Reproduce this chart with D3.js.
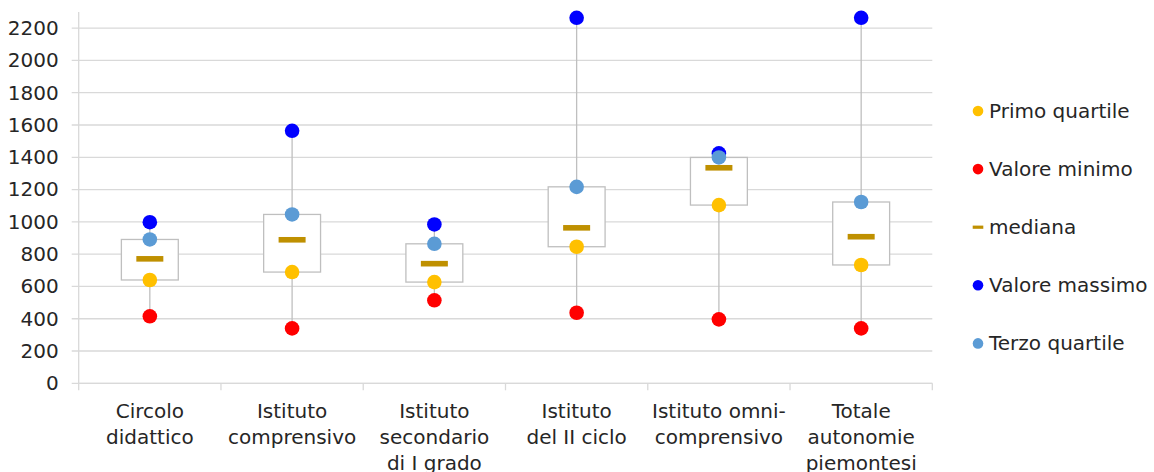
<!DOCTYPE html>
<html>
<head>
<meta charset="utf-8">
<script src="https://cdn.jsdelivr.net/npm/d3@7"></script>
<style>
  body { margin: 0; background: #fff; }
  svg { display: block; font-family: "DejaVu Sans", sans-serif; }
</style>
</head>
<body>
<svg width="1154" height="472"></svg>
<script>
// data
var categories = [
  ["Circolo", "didattico"],
  ["Istituto", "comprensivo"],
  ["Istituto", "secondario", "di I grado"],
  ["Istituto", "del II ciclo"],
  ["Istituto omni-", "comprensivo"],
  ["Totale", "autonomie", "piemontesi"]
];
var valoreMinimo  = [415, 340, 514, 437, 396, 340];
var primoQuartile = [640, 689, 627, 846, 1104, 733];
var mediana       = [771, 889, 741, 963, 1335, 908];
var terzoQuartile = [891, 1046, 864, 1217, 1399, 1123];
var valoreMassimo = [998, 1564, 984, 2264, 1424, 2264];
var yTicks = [0, 200, 400, 600, 800, 1000, 1200, 1400, 1600, 1800, 2000, 2200];

var legendItems = [
  { name: "Primo quartile", color: "#FFC000", type: "dot" },
  { name: "Valore minimo", color: "#FF0000", type: "dot" },
  { name: "mediana", color: "#BF9000", type: "dash" },
  { name: "Valore massimo", color: "#0000FF", type: "dot" },
  { name: "Terzo quartile", color: "#5B9BD5", type: "dot" }
];

var svg = d3.select("svg"),
  plotLeft = 78.7,
  plotRight = 932.3,
  plotTop = 12,
  plotBottom = 383.3,
  fontSize = "20px";

var keys = categories.map((c, i) => "c" + i);

var x = d3.scaleBand().domain(keys).range([plotLeft, plotRight]).padding(0);
var y = d3.scaleLinear().domain([0, 2300]).range([plotBottom, plotTop]);

// gridlines
svg.append("g")
  .selectAll("line")
  .data(yTicks)
  .enter()
  .append("line")
  .attr("x1", plotLeft - 7)
  .attr("x2", plotRight)
  .attr("y1", (d) => y(d))
  .attr("y2", (d) => y(d))
  .style("stroke", "#d9d9d9")
  .style("stroke-width", 1.3);

// y axis labels
var yAxis = svg.append("g")
  .attr("transform", "translate(" + plotLeft + ",0)")
  .call(d3.axisLeft(y).tickValues(yTicks).tickFormat(d3.format("d")).tickSize(0).tickPadding(20));
yAxis.select(".domain").remove();
yAxis.selectAll("text")
  .style("font-family", "DejaVu Sans")
  .style("font-size", fontSize)
  .style("fill", "#262626");

// axis lines
svg.append("line")
  .attr("x1", plotLeft).attr("x2", plotLeft)
  .attr("y1", plotTop).attr("y2", plotBottom + 7)
  .style("stroke", "#d9d9d9").style("stroke-width", 1.3);
svg.append("line")
  .attr("x1", plotLeft).attr("x2", plotRight)
  .attr("y1", plotBottom).attr("y2", plotBottom)
  .style("stroke", "#d9d9d9").style("stroke-width", 1.3);
svg.append("g")
  .selectAll("line")
  .data(keys.slice(1).map((k) => x(k)).concat([plotRight]))
  .enter()
  .append("line")
  .attr("x1", (d) => d).attr("x2", (d) => d)
  .attr("y1", plotBottom).attr("y2", plotBottom + 7)
  .style("stroke", "#d9d9d9").style("stroke-width", 1.3);

// x labels
var xLabels = svg.append("g")
  .selectAll("text")
  .data(categories)
  .enter()
  .append("text")
  .attr("text-anchor", "middle")
  .attr("transform", (d, i) => "translate(" + (x(keys[i]) + x.bandwidth() / 2) + "," + (plotBottom + 34.5) + ")")
  .style("font-size", fontSize)
  .style("fill", "#262626");
xLabels.selectAll("tspan")
  .data((d) => d)
  .enter()
  .append("tspan")
  .attr("x", 0)
  .attr("dy", (d, i) => (i === 0 ? 0 : 26))
  .text((d) => d);

var cx = (i) => x(keys[i]) + x.bandwidth() / 2;
var boxW = x.bandwidth() * 0.4;

var g = svg.append("g");

// whiskers
g.selectAll(".whisker")
  .data(keys)
  .enter()
  .append("line")
  .attr("x1", (d, i) => cx(i)).attr("x2", (d, i) => cx(i))
  .attr("y1", (d, i) => y(valoreMinimo[i]))
  .attr("y2", (d, i) => y(valoreMassimo[i]))
  .style("stroke", "#bfbfbf")
  .style("stroke-width", 1.3);

// boxes
g.selectAll(".box")
  .data(keys)
  .enter()
  .append("rect")
  .attr("x", (d, i) => cx(i) - boxW / 2)
  .attr("width", boxW)
  .attr("y", (d, i) => y(terzoQuartile[i]))
  .attr("height", (d, i) => y(primoQuartile[i]) - y(terzoQuartile[i]))
  .style("fill", "#fff")
  .style("stroke", "#bfbfbf")
  .style("stroke-width", 1.3);

// median dashes
g.selectAll(".med")
  .data(mediana)
  .enter()
  .append("rect")
  .attr("x", (d, i) => cx(i) - 13.5)
  .attr("width", 27)
  .attr("y", (d) => y(d) - 2.8)
  .attr("height", 5.6)
  .style("fill", "#BF9000");

// dots, in series order
var dotSeries = [
  [primoQuartile, "#FFC000"],
  [valoreMinimo, "#FF0000"],
  [valoreMassimo, "#0000FF"],
  [terzoQuartile, "#5B9BD5"]
];
dotSeries.forEach(function (s) {
  g.append("g")
    .selectAll("circle")
    .data(s[0])
    .enter()
    .append("circle")
    .attr("cx", (d, i) => cx(i))
    .attr("cy", (d) => y(d))
    .attr("r", 7.3)
    .style("fill", s[1]);
});

// legend
var legend = svg.append("g")
  .selectAll("g")
  .data(legendItems)
  .enter()
  .append("g")
  .attr("transform", (d, i) => "translate(978," + (111 + i * 58.1) + ")");
legend.filter((d) => d.type === "dot")
  .append("circle")
  .attr("r", 5.3)
  .style("fill", (d) => d.color);
legend.filter((d) => d.type === "dash")
  .append("rect")
  .attr("x", -5.3).attr("y", -1.6)
  .attr("width", 10.6).attr("height", 3.2)
  .style("fill", (d) => d.color);
legend.append("text")
  .attr("x", 11)
  .attr("y", 7)
  .style("font-size", fontSize)
  .style("fill", "#262626")
  .text((d) => d.name);
</script>
</body>
</html>
